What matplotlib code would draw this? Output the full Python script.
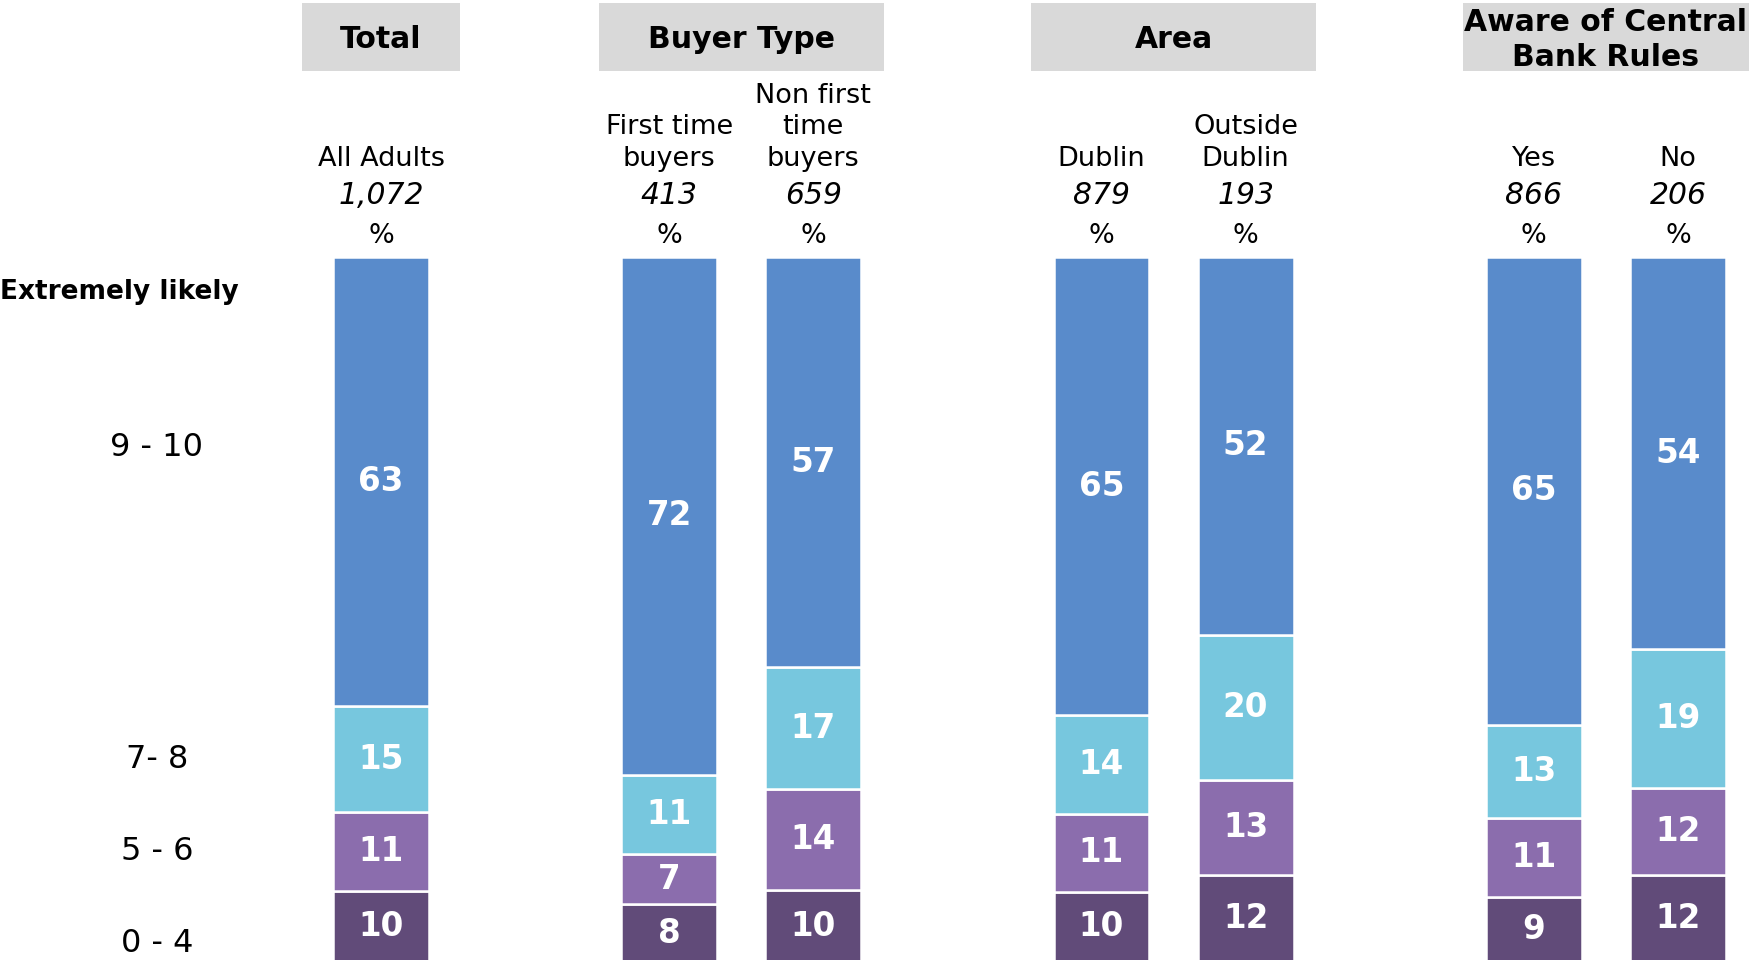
import matplotlib
matplotlib.use("Agg")
import matplotlib.pyplot as plt
from matplotlib.patches import Rectangle
from matplotlib.transforms import blended_transform_factory
import numpy as np

# ---------------- data ----------------
columns = ["All Adults", "First time\nbuyers", "Non first\ntime\nbuyers",
           "Dublin", "Outside\nDublin", "Yes", "No"]
bases = ["1,072", "413", "659", "879", "193", "866", "206"]
groups = ["Total", "Buyer Type", "Area", "Aware of Central\nBank Rules"]
group_sizes = [1, 2, 2, 2]
levels = ["0 - 4", "5 - 6", "7- 8", "9 - 10"]
top_label = "Extremely likely"
s_0_4 = [10, 8, 10, 10, 12, 9, 12]
s_5_6 = [11, 7, 14, 11, 13, 11, 12]
s_7_8 = [15, 11, 17, 14, 20, 13, 19]
s_9_10 = [63, 72, 57, 65, 52, 65, 54]
colors = ["#614B79", "#8B6DAD", "#77C7DE", "#598BCB"]

# ---------------- layout ----------------
W, H = 1750, 960
fig = plt.figure(figsize=(W / 100, H / 100), dpi=100)
# y: 0 at pixel 962 from top, 100 at pixel 257
ax = fig.add_axes([0, (H - 962) / H, 1, 705 / H])
ax.set_ylim(0, 100)
unit = 144.1
x0px = 381
ax.set_xlim(-x0px / unit, (W - x0px) / unit)
ax.axis("off")

# positions: groups separated by an empty slot
positions = []
cur = 0
group_pos = []
for gs in group_sizes:
    gp = []
    for k in range(gs):
        positions.append(cur)
        gp.append(cur)
        cur += 1
    group_pos.append(gp)
    cur += 1
positions = np.array(positions, dtype=float)

series = np.array([s_0_4, s_5_6, s_7_8, s_9_10], dtype=float)
totals = series.sum(axis=0)
pct = series / totals * 100

bottom = np.zeros(len(columns))
for i in range(4):
    ax.bar(positions, pct[i], bottom=bottom, width=0.665, color=colors[i],
           edgecolor="white", linewidth=1.8, clip_on=False)
    for j in range(len(columns)):
        ax.text(positions[j], bottom[j] + pct[i][j] / 2, f"{int(series[i][j])}",
                ha="center", va="center", color="white", fontsize=23.5,
                fontweight="bold", clip_on=False)
    bottom += pct[i]

tr = blended_transform_factory(ax.transData, fig.transFigure)

def fy(py):
    return 1 - py / H

# group header boxes
for g, gp in zip(groups, group_pos):
    pad = 0.545 if len(gp) == 1 else 0.49
    left = gp[0] - pad
    right = gp[-1] + pad
    ax.add_patch(Rectangle((left, fy(71)), right - left, (71 - 3) / H,
                           transform=tr, facecolor="#D9D9D9",
                           edgecolor="none", zorder=0, clip_on=False))
    ax.text((left + right) / 2, fy(40), g, transform=tr, ha="center",
            va="center", fontsize=21.5, fontweight="bold", linespacing=1.25,
            color="black", zorder=3)

# column labels
for j, lab in enumerate(columns):
    lines = lab.split("\n")
    n = len(lines)
    for k, line in enumerate(lines):
        by = 166 - 31.5 * (n - 1 - k)
        ax.text(positions[j], fy(by), line, transform=tr, ha="center",
                va="baseline", fontsize=19.5, color="black")
    ax.text(positions[j], fy(204), bases[j], transform=tr, ha="center",
            va="baseline", fontsize=21.5, style="italic", color="black")
    ax.text(positions[j], fy(243), "%", transform=tr, ha="center",
            va="baseline", fontsize=19.5, color="black")

# left labels
fig.text(0.0, fy(292), top_label, ha="left", va="center", fontsize=19,
         fontweight="bold", color="black")
level_py = [943, 851, 759, 447]
for lab, py in zip(levels, level_py):
    fig.text(157 / W, fy(py), lab, ha="center", va="center", fontsize=23,
             color="black")

fig.savefig("out.png", dpi=100, facecolor="white")
